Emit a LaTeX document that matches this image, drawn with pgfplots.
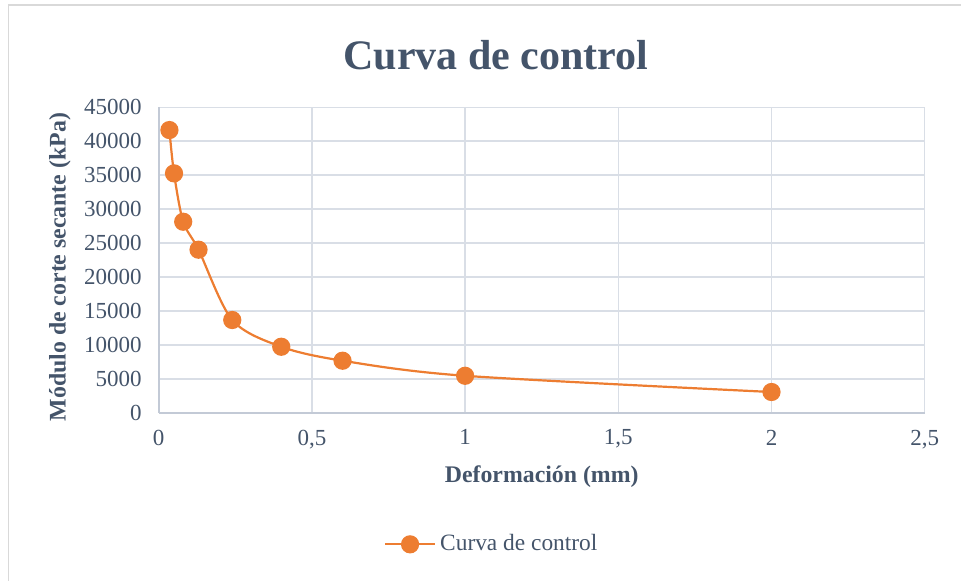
\documentclass[border=0pt]{standalone}
\usepackage{pgfplots}
\pgfplotsset{compat=1.18}
\usepackage{fontspec}
\setmainfont{Liberation Serif}
\definecolor{txt}{HTML}{44546A}
\definecolor{gridc}{HTML}{D9DEE6}
\definecolor{axc}{HTML}{C3CAD6}
\definecolor{orng}{HTML}{ED7D31}
\definecolor{framec}{HTML}{D9D9D9}
\begin{document}
\begin{tikzpicture}
\useasboundingbox (0,0) rectangle (480.5pt,290pt);
\draw[framec, line width=0.6pt] (4.25pt,-10pt) rectangle (490pt,287.5pt);
\node[text=txt, font=\fontsize{21}{25}\selectfont\bfseries] at (248pt,262.5pt) {Curva de control};
\begin{axis}[
  at={(79.35pt,83.65pt)}, anchor=south west,
  scale only axis, width=383pt, height=152.7pt,
  xmin=0, xmax=2.5, ymin=0, ymax=45000,
  xtick={0,0.5,1,1.5,2,2.5},
  ytick={0,5000,10000,15000,20000,25000,30000,35000,40000,45000},
  scaled y ticks=false, scaled x ticks=false,
  /pgf/number format/assume math mode=true,
  /pgf/number format/use comma,
  /pgf/number format/1000 sep={},
  xmajorgrids, ymajorgrids,
  grid style={gridc, line width=0.75pt},
  axis lines=left,
  axis line style={axc, line width=0.9pt, -},
  major tick length=0pt,
  tick label style={text=txt, font=\fontsize{11.5}{13}\selectfont},
  yticklabel style={xshift=-5pt},
  xticklabel style={yshift=-5pt},
  xlabel={Deformación (mm)},
  ylabel={Módulo de corte secante (kPa)},
  label style={text=txt, font=\fontsize{11.9}{14}\selectfont\bfseries},
  xlabel style={at={(0.5,-0.209)}, anchor=center},
  ylabel style={at={(-0.129,0.477)}, anchor=center},
  legend style={at={(0.436,-0.431)}, anchor=center, draw=none, fill=none,
    font=\fontsize{11.7}{13}\selectfont, text=txt},
]
\addplot[orng, line width=1.1pt, smooth, tension=0.5,
  mark=*, mark size=4pt, mark options={fill=orng, draw=orng},
  legend image code/.code={\draw[mark repeat=2,mark phase=2] plot coordinates {(0cm,0cm) (0.44cm,0cm) (0.88cm,0cm)};}]
coordinates {
(0.035,41650) (0.05,35270) (0.08,28140) (0.13,24020) (0.24,13660)
(0.40,9720) (0.60,7660) (1.0,5440) (2.0,3050)
};
\addlegendentry{Curva de control}
\end{axis}
\end{tikzpicture}
\end{document}
